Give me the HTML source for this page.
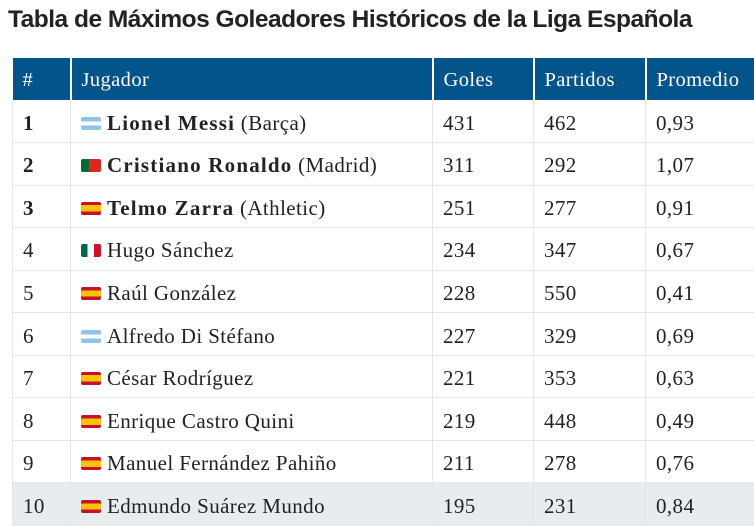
<!DOCTYPE html>
<html><head><meta charset="utf-8"><style>
*{margin:0;padding:0;box-sizing:border-box}
body{width:754px;height:524px;background:#fff;overflow:hidden;position:relative;font-family:"Liberation Serif",serif;color:#222}
h1{position:absolute;left:8px;top:6px;font-family:"Liberation Sans",sans-serif;font-size:24.5px;font-weight:bold;color:#222;letter-spacing:-0.5px;white-space:nowrap}
table{position:absolute;left:12px;top:58px;border-collapse:collapse;width:748px;font-size:21px;letter-spacing:0.4px}
th{background:#04548c;color:#fff;font-weight:normal;text-align:left;height:42px;padding-left:10px;padding-top:2px;border-right:2px solid #fff;font-size:20.5px}
td{height:42.55px;padding-left:10px;padding-top:4px;border:1px solid #e6e6e6;border-top:none;border-left:none;white-space:nowrap}
td:first-child{border-left:1px solid #e6e6e6}
td b{letter-spacing:1.2px}
tr.last td{background:#e9ecef}
.f{display:inline-block;width:20px;height:13px;vertical-align:0px;margin-right:6px;border-radius:2px}
.ar{background:linear-gradient(#8ec3ea 33%,#fff 33%,#fff 66%,#8ec3ea 66%)}
.es{background:linear-gradient(#c8102e 25%,#f6c300 25%,#f6c300 75%,#c8102e 75%)}
.pt{background:linear-gradient(90deg,#046a38 40%,#da291c 40%)}
.mx{background:linear-gradient(90deg,#006847 33%,#fff 33%,#fff 66%,#ce1126 66%)}
</style></head><body>
<h1>Tabla de Máximos Goleadores Históricos de la Liga Española</h1>
<table>
<colgroup><col style="width:58px"><col style="width:362px"><col style="width:101px"><col style="width:112px"><col></colgroup>
<tr><th>#</th><th>Jugador</th><th>Goles</th><th>Partidos</th><th>Promedio</th></tr>
<tr><td><b>1</b></td><td><span class="f ar"></span><b>Lionel Messi</b> (Barça)</td><td>431</td><td>462</td><td>0,93</td></tr>
<tr><td><b>2</b></td><td><span class="f pt"></span><b>Cristiano Ronaldo</b> (Madrid)</td><td>311</td><td>292</td><td>1,07</td></tr>
<tr><td><b>3</b></td><td><span class="f es"></span><b>Telmo Zarra</b> (Athletic)</td><td>251</td><td>277</td><td>0,91</td></tr>
<tr><td>4</td><td><span class="f mx"></span>Hugo Sánchez</td><td>234</td><td>347</td><td>0,67</td></tr>
<tr><td>5</td><td><span class="f es"></span>Raúl González</td><td>228</td><td>550</td><td>0,41</td></tr>
<tr><td>6</td><td><span class="f ar"></span>Alfredo Di Stéfano</td><td>227</td><td>329</td><td>0,69</td></tr>
<tr><td>7</td><td><span class="f es"></span>César Rodríguez</td><td>221</td><td>353</td><td>0,63</td></tr>
<tr><td>8</td><td><span class="f es"></span>Enrique Castro Quini</td><td>219</td><td>448</td><td>0,49</td></tr>
<tr><td>9</td><td><span class="f es"></span>Manuel Fernández Pahiño</td><td>211</td><td>278</td><td>0,76</td></tr>
<tr class="last"><td>10</td><td><span class="f es"></span>Edmundo Suárez Mundo</td><td>195</td><td>231</td><td>0,84</td></tr>
</table>
</body></html>
